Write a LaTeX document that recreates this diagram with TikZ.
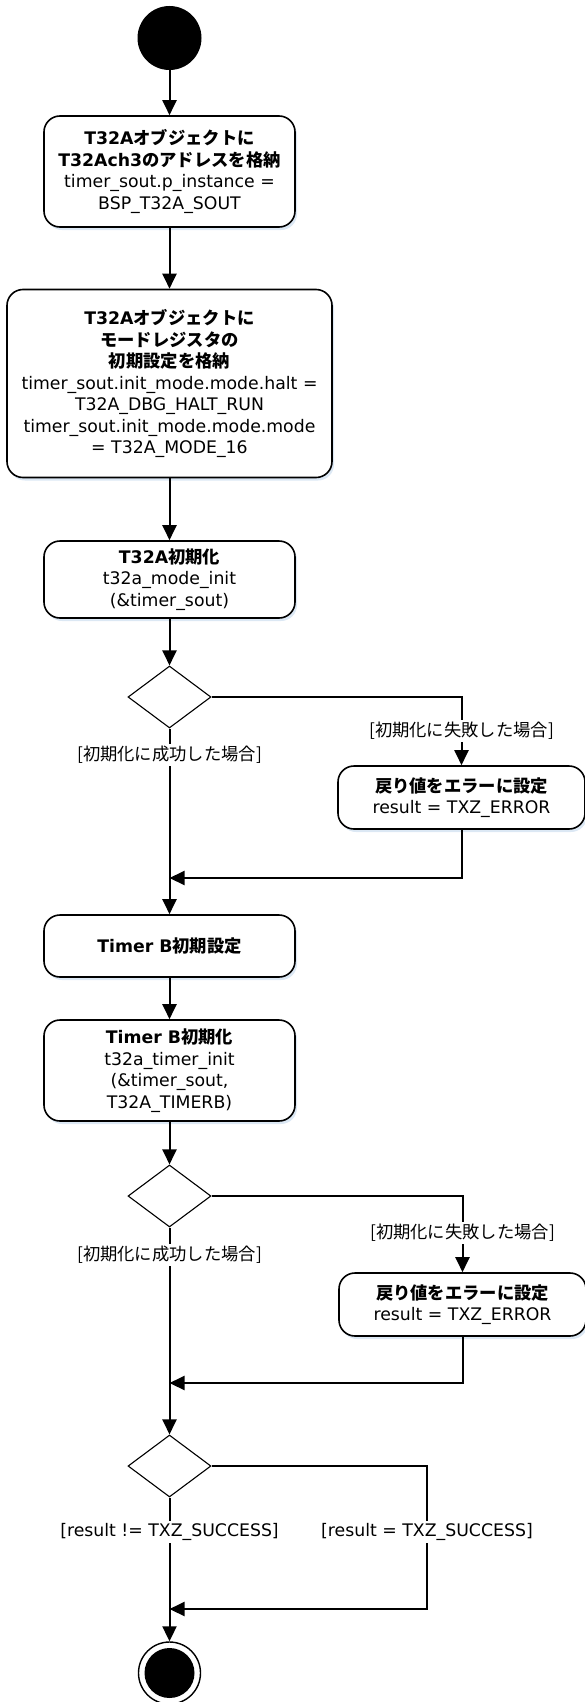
\documentclass[tikz,border=0pt]{standalone}
\usepackage{fontspec}
\setmainfont{DejaVu Sans}
\newfontfamily\jp{Noto Sans CJK JP}
\usetikzlibrary{shapes.geometric,arrows.meta,shadows}
\newcommand{\J}[1]{{\jp #1}}
\tikzset{
  act/.style={draw, line width=1.6pt, rounded corners=16pt, fill=white, align=center,
    inner sep=0pt, minimum width=251pt, font=\fontsize{17.3}{21.5}\selectfont,
    drop shadow={shadow xshift=2pt, shadow yshift=-3pt, fill={rgb,255:red,205;green,222;blue,240}, opacity=0.7}},
  dec/.style={diamond, draw, line width=1.1pt, fill=white, minimum width=83pt,
    minimum height=62pt, inner sep=0pt, aspect=1.34},
  flow/.style={line width=2pt, -{Triangle[length=15pt,width=14pt]}},
  guard/.style={fill=white, inner sep=2pt, font=\fontsize{17.3}{21.5}\selectfont\jp},
}
\begin{document}
\begin{tikzpicture}[x=1pt,y=-1pt]
\useasboundingbox (0,0) rectangle (584,1702);

\node[circle, fill=black, minimum size=64pt, inner sep=0pt] (start) at (169.5,38) {};

\node[act, minimum height=111pt] (b1) at (169.5,171.5)
  {\textbf{T32A\J{オブジェクトに}}\\\textbf{T32Ach3\J{のアドレスを格納}}\\timer\_sout.p\_instance =\\BSP\_T32A\_SOUT};
\node[act, minimum width=325pt, minimum height=188pt] (b2) at (169.5,383.5)
  {\textbf{T32A\J{オブジェクトに}}\\\textbf{\J{モードレジスタの}}\\\textbf{\J{初期設定を格納}}\\timer\_sout.init\_mode.mode.halt =\\T32A\_DBG\_HALT\_RUN\\timer\_sout.init\_mode.mode.mode\\= T32A\_MODE\_16};
\node[act, minimum height=77pt] (b3) at (169.5,579.5)
  {\textbf{T32A\J{初期化}}\\t32a\_mode\_init\\(\&timer\_sout)};
\node[dec] (d1) at (169.5,697) {};
\node[act, minimum width=247pt, minimum height=63pt] (e1) at (461.5,797.5)
  {\textbf{\J{戻り値をエラーに設定}}\\result = TXZ\_ERROR};
\coordinate (j1) at (169.5,878);
\node[act, minimum height=62pt] (b4) at (169.5,946) {\textbf{Timer B\J{初期設定}}};
\node[act, minimum height=101pt] (b5) at (169.5,1070.5)
  {\textbf{Timer B\J{初期化}}\\t32a\_timer\_init\\(\&timer\_sout,\\T32A\_TIMERB)};
\node[dec] (d2) at (169.5,1196) {};
\node[act, minimum width=247pt, minimum height=63pt] (e2) at (462.5,1304.5)
  {\textbf{\J{戻り値をエラーに設定}}\\result = TXZ\_ERROR};
\coordinate (j2) at (169.5,1383);
\node[dec] (d3) at (169.5,1466) {};
\coordinate (r3) at (427,1466);
\coordinate (j3) at (169.5,1609);
\node[circle, draw, line width=1.4pt, fill=white, minimum size=62pt, inner sep=0pt] (end) at (169.5,1673) {};
\node[circle, fill=black, minimum size=50pt, inner sep=0pt] (endin) at (end) {};

\draw[flow] (start) -- (b1);
\draw[flow] (b1) -- (b2);
\draw[flow] (b2) -- (b3);
\draw[flow] (b3) -- (d1);
\draw[flow] (d1.east) -| (e1.north);
\draw[flow] (d1.south) -- (b4.north);
\draw[flow] (e1.south) |- (j1);
\draw[flow] (b4) -- (b5);
\draw[flow] (b5) -- (d2);
\draw[flow] (d2.east) -| (e2.north);
\draw[flow] (d2.south) -- (d3.north);
\draw[flow] (e2.south) |- (j2);
\draw[flow] (d3.south) -- (end.north);
\draw[flow] (d3.east) -- (r3) |- (j3);

\node[guard] (g1) at (461.5,731) {[初期化に失敗した場合]};
\node[guard] (g2) at (169.5,755) {[初期化に成功した場合]};
\node[guard] (g3) at (462.5,1233) {[初期化に失敗した場合]};
\node[guard] (g4) at (169.5,1255) {[初期化に成功した場合]};
\node[guard, font=\fontsize{17.3}{21.5}\selectfont] (g5) at (169.5,1532) {[result != TXZ\_SUCCESS]};
\node[guard, font=\fontsize{17.3}{21.5}\selectfont] (g6) at (427,1532) {[result = TXZ\_SUCCESS]};
\end{tikzpicture}
\end{document}
